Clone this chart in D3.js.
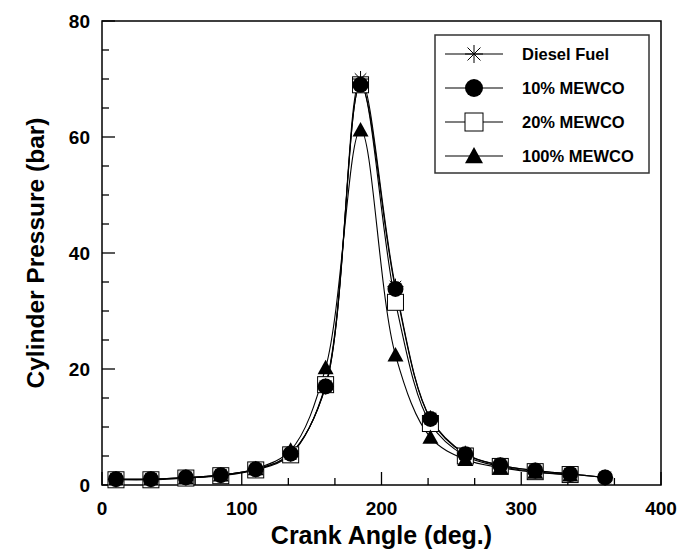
<!DOCTYPE html>
<html>
<head>
<meta charset="utf-8">
<script src="https://cdn.jsdelivr.net/npm/d3@7"></script>
<style>
  body { margin: 0; background: #fff; }
  text { font-family: "Liberation Sans", Arial, sans-serif; font-weight: bold; fill: #000; }
</style>
</head>
<body>
<svg id="chart" width="679" height="551"></svg>
<script>
// crank angle of every marker (deg.)
const angles = [10, 35, 60, 85, 110, 135, 160, 185, 210, 235, 260, 285, 310, 335, 360];

// cylinder pressure (bar)
const diesel  = [1.0, 1.0, 1.3, 1.7, 2.7, 5.4, 17.0, 70.0, 34.2, 11.5, 5.4, 3.4, 2.5, 1.9, 1.3];
const mewco10 = [1.0, 1.0, 1.3, 1.7, 2.7, 5.4, 17.0, 69.0, 33.8, 11.4, 5.3, 3.4, 2.5, 1.9, 1.3];
const mewco20 = [0.9, 0.9, 1.2, 1.6, 2.6, 5.2, 17.3, 69.0, 31.5, 10.6, 5.0, 3.2, 2.3, 1.8];
const mewco100 = [1.0, 1.0, 1.2, 1.7, 2.8, 6.0, 20.2, 61.2, 22.4, 8.2, 4.4, 3.0, 2.2, 1.7];

const seriesNames = ['Diesel Fuel', '10% MEWCO', '20% MEWCO', '100% MEWCO'];
const xTicks = [0, 100, 200, 300, 400];
const yTicks = [0, 20, 40, 60, 80];

const margin = { top: 21, right: 18, bottom: 66, left: 102 };
const width = 679 - margin.left - margin.right;
const height = 551 - margin.top - margin.bottom;

const svg = d3.select('#chart')
    .append('g')
    .attr('transform', `translate(${margin.left}, ${margin.top})`);

const xScale = d3.scaleLinear().domain([0, 400]).range([0, width]);
const yScale = d3.scaleLinear().domain([0, 80]).range([height, 0]);

// frame
svg.append('rect')
    .attr('width', width)
    .attr('height', height)
    .attr('fill', 'none')
    .attr('stroke', '#000')
    .attr('stroke-width', 1.5);

// inward ticks on left and bottom
const xMinor = d3.range(0, 401, 100 / 3).map((v) => Math.round(v * 1000) / 1000);
const yMinor = d3.range(0, 81, 5);

svg.append('g')
    .selectAll('line')
    .data(xMinor)
    .enter()
    .append('line')
    .attr('x1', (d) => xScale(d))
    .attr('x2', (d) => xScale(d))
    .attr('y1', height)
    .attr('y2', (d) => height - (Math.abs(d % 100) < 0.01 ? 13 : 7))
    .attr('stroke', '#000')
    .attr('stroke-width', 1.3);

svg.append('g')
    .selectAll('line')
    .data(yMinor)
    .enter()
    .append('line')
    .attr('x1', 0)
    .attr('x2', (d) => (d % 20 === 0 ? 13 : 7))
    .attr('y1', (d) => yScale(d))
    .attr('y2', (d) => yScale(d))
    .attr('stroke', '#000')
    .attr('stroke-width', 1.3);

svg.append('g')
    .selectAll('text')
    .data(xTicks)
    .enter()
    .append('text')
    .attr('x', (d) => xScale(d))
    .attr('y', height + 30)
    .attr('text-anchor', 'middle')
    .style('font-size', '19px')
    .text((d) => d);

svg.append('g')
    .selectAll('text')
    .data(yTicks)
    .enter()
    .append('text')
    .attr('x', -12)
    .attr('y', (d) => yScale(d) + 7)
    .attr('text-anchor', 'end')
    .style('font-size', '19px')
    .text((d) => d);

svg.append('text')
    .attr('x', width / 2)
    .attr('y', height + 59)
    .attr('text-anchor', 'middle')
    .style('font-size', '25px')
    .text('Crank Angle (deg.)');

svg.append('text')
    .attr('transform', `translate(-58, ${height / 2}) rotate(-90)`)
    .attr('text-anchor', 'middle')
    .style('font-size', '24.5px')
    .text('Cylinder Pressure (bar)');

// markers
function drawMarker(g, kind, size) {
    const r = size / 2;
    if (kind === 'star') {
        const d = r * 0.72;
        g.append('path')
            .attr('d', `M${-r},0H${r}M0,${-r}V${r}M${-d},${-d}L${d},${d}M${-d},${d}L${d},${-d}`)
            .attr('stroke', '#000').attr('stroke-width', 1).attr('fill', 'none');
    } else if (kind === 'circle') {
        g.append('circle').attr('r', r).attr('fill', '#000');
    } else if (kind === 'square') {
        g.append('rect').attr('x', -r).attr('y', -r).attr('width', size).attr('height', size)
            .attr('fill', '#fff').attr('stroke', '#000').attr('stroke-width', 1);
    } else {
        g.append('path')
            .attr('d', `M0,${-r}L${r},${r * 0.8}L${-r},${r * 0.8}Z`)
            .attr('fill', '#000');
    }
}

const series = [
    { name: seriesNames[2], values: mewco20, kind: 'square' },
    { name: seriesNames[3], values: mewco100, kind: 'triangle' },
    { name: seriesNames[1], values: mewco10, kind: 'circle' },
    { name: seriesNames[0], values: diesel, kind: 'star' },
];

const line = d3.line()
    .x((d) => xScale(d[0]))
    .y((d) => yScale(d[1]))
    .curve(d3.curveCatmullRom.alpha(0.5));

series.forEach((s) => {
    const pts = s.values.map((v, i) => [angles[i], v]);
    svg.append('path')
        .datum(pts)
        .attr('d', line)
        .attr('fill', 'none')
        .attr('stroke', '#000')
        .attr('stroke-width', 1.1);
});

series.forEach((s) => {
    const pts = s.values.map((v, i) => [angles[i], v]);
    svg.append('g')
        .selectAll('g')
        .data(pts)
        .enter()
        .append('g')
        .attr('transform', (d) => `translate(${xScale(d[0])}, ${yScale(d[1])})`)
        .each(function () { drawMarker(d3.select(this), s.kind, 16); });
});

// legend
const legend = d3.select('#chart').append('g');
legend.append('rect')
    .attr('x', 435).attr('y', 35)
    .attr('width', 214).attr('height', 138)
    .attr('fill', '#fff')
    .attr('stroke', '#333')
    .attr('stroke-width', 1.5);

const legendKinds = ['star', 'circle', 'square', 'triangle'];
seriesNames.forEach((name, i) => {
    const y = 54 + i * 34;
    legend.append('line')
        .attr('x1', 445).attr('x2', 503)
        .attr('y1', y).attr('y2', y)
        .attr('stroke', '#000').attr('stroke-width', 1.1);
    const g = legend.append('g').attr('transform', `translate(474, ${y})`);
    drawMarker(g, legendKinds[i], 18);
    legend.append('text')
        .attr('x', 522).attr('y', y + 6)
        .style('font-size', '16.5px')
        .text(name);
});
</script>
</body>
</html>
